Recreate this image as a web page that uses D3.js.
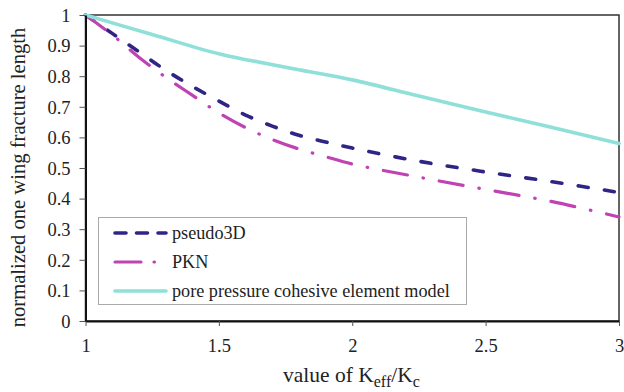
<!DOCTYPE html>
<html>
<head>
<meta charset="utf-8">
<script src="https://cdn.jsdelivr.net/npm/d3@7"></script>
<style>
body{margin:0;background:#fff}
</style>
</head>
<body>
<svg id="chart" width="624" height="392"></svg>
<script>
// values
var kRatio=[1,1.1,1.2,1.3,1.4,1.5,1.6,1.7,1.8,1.9,2,2.25,2.5,2.75,3]
var pseudo3D=[1,0.94,0.88,0.82,0.767,0.719,0.673,0.637,0.607,0.585,0.565,0.522,0.487,0.455,0.42]
var pkn=[1,0.935,0.862,0.797,0.738,0.68,0.632,0.593,0.562,0.537,0.513,0.47,0.43,0.39,0.34]
var poreK=[1,1.25,1.5,1.62,1.8,2,2.25,2.5,2.75,3]
var pore=[1,0.936,0.873,0.851,0.821,0.788,0.735,0.683,0.632,0.58]
var xTicks=[1,1.5,2,2.5,3]
var yTicks=[0,0.1,0.2,0.3,0.4,0.5,0.6,0.7,0.8,0.9,1]
var legendNames=["pseudo3D","PKN","pore pressure cohesive element model"]

var FONT="'Liberation Serif','Times New Roman',Times,serif"
var margins={left:85.5,right:5,top:15,bottom:71}
var screen={width:624,height:392}
var graph={
    width:screen.width-margins.left-margins.right,
    height:screen.height-margins.top-margins.bottom
}

var svg=d3.select("#chart").style("font-family",FONT)

var xScale=d3.scaleLinear().domain([1,3]).range([0,graph.width])
var yScale=d3.scaleLinear().domain([0,1]).range([graph.height,0])

var plot=svg.append("g")
    .attr("transform","translate("+margins.left+","+margins.top+")")

// frame top/right
plot.append("rect")
    .attr("x",0).attr("y",0)
    .attr("width",graph.width).attr("height",graph.height)
    .attr("fill","none").attr("stroke","#333").attr("stroke-width",1.5)

var series=[
    {name:legendNames[0],xs:kRatio,ys:pseudo3D,color:"#2f2586",dash:"10,16.5",w:3.6},
    {name:legendNames[1],xs:kRatio,ys:pkn,color:"#c043b4",dash:"24.3,16,0.5,16",w:3.2},
    {name:legendNames[2],xs:poreK,ys:pore,color:"#8ee0d8",dash:null,w:3.6}
]

var lineGen=d3.line()
    .x(function(d){return xScale(d[0])})
    .y(function(d){return yScale(d[1])})
    .curve(d3.curveCatmullRom)

series.forEach(function(s){
    var pts=s.xs.map(function(x,i){return [x,s.ys[i]]})
    plot.append("path")
        .datum(pts)
        .attr("d",lineGen)
        .attr("fill","none")
        .attr("stroke",s.color)
        .attr("stroke-width",s.w)
        .attr("stroke-linecap","round")
        .attr("stroke-dasharray",s.dash)
})

//axes
var xAxis=d3.axisBottom(xScale).tickValues(xTicks).tickFormat(d3.format("")).tickSize(5).tickSizeOuter(0).tickPadding(13)
var yAxis=d3.axisLeft(yScale).tickValues(yTicks).tickFormat(d3.format("")).tickSize(6).tickSizeOuter(0).tickPadding(9)

var gx=plot.append("g")
    .attr("transform","translate(0,"+graph.height+")")
    .call(xAxis)
var gy=plot.append("g").call(yAxis)
;[gx,gy].forEach(function(g){
    g.attr("font-family",FONT)
    g.select(".domain").attr("stroke","#111").attr("stroke-width",2)
    g.selectAll(".tick line").attr("stroke","#555")
    g.selectAll(".tick text").style("font-size","18.5px").style("font-family",FONT).attr("fill","#222")
})
gy.selectAll(".tick text").attr("dy","0.34em")

//legend
var legend=svg.append("g").attr("transform","translate(98,217)")
legend.append("rect")
    .attr("x",0.5).attr("y",0.5)
    .attr("width",368).attr("height",87)
    .attr("fill","#fff").attr("stroke","#aaa").attr("stroke-width",1)
series.forEach(function(s,i){
    var y=16+i*29
    legend.append("line")
        .attr("x1",17).attr("x2",68).attr("y1",y).attr("y2",y)
        .attr("stroke",s.color)
        .attr("stroke-width",s.w)
        .attr("stroke-linecap","round")
        .attr("stroke-dasharray",i==0?"11,10.5":(i==1?"26,13,0.5,14":null))
    legend.append("text")
        .text(s.name)
        .attr("x",74).attr("y",y+6)
        .attr("fill","#222")
        .style("font-family",FONT)
        .style("font-size","18.2px")
})

//labels
var xt=svg.append("text")
    .attr("x",283).attr("y",382)
    .attr("fill","#222")
    .style("font-family",FONT)
    .style("font-size","21.5px")
xt.append("tspan").text("value of K")
xt.append("tspan").text("eff").attr("dy",5).style("font-size","16px")
xt.append("tspan").text("/K").attr("dy",-5)
xt.append("tspan").text("c").attr("dy",5).style("font-size","16px")

svg.append("g")
    .attr("transform","translate(25,177.5)")
    .append("text")
    .text("normalized one wing fracture length")
    .attr("text-anchor","middle")
    .attr("transform","rotate(-90)")
    .attr("fill","#222")
    .style("font-family",FONT)
    .style("font-size","20.6px")
</script>
</body>
</html>
